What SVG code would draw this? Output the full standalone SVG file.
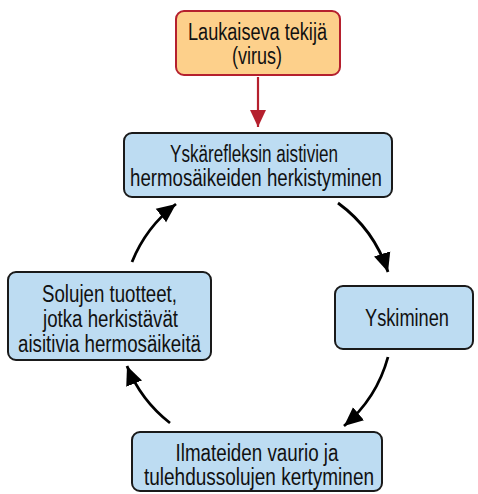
<svg xmlns="http://www.w3.org/2000/svg" width="478" height="494" viewBox="0 0 478 494">
<style>
.box{fill:#bddcf2;stroke:#1a1a1a;stroke-width:2}
.trig{fill:#fdd08b;stroke:#b5202e;stroke-width:2}
text{font-family:"Liberation Sans",Arial,sans-serif;font-size:23px;fill:#111;text-anchor:middle}
.arc{fill:none;stroke:#000;stroke-width:2.8}
</style>
<defs>
<marker id="ah" markerUnits="userSpaceOnUse" markerWidth="22" markerHeight="22" viewBox="0 0 22 22" refX="19" refY="11" orient="auto">
<path d="M0,2.5 L19,11 L0,19.5 Z" fill="#000"/>
</marker>
<marker id="ahr" markerUnits="userSpaceOnUse" markerWidth="22" markerHeight="22" viewBox="0 0 22 22" refX="17" refY="11" orient="auto">
<path d="M0,3 L17,11 L0,19 Z" fill="#b5202e"/>
</marker>
</defs>
<g id="connectors">
<line x1="258" y1="77" x2="258" y2="127" stroke="#b5202e" stroke-width="2.2" marker-end="url(#ahr)"/>
<path class="arc" d="M 338 203 A 138 138 0 0 1 388 272" marker-end="url(#ah)"/>
<path class="arc" d="M 388 357 A 138 138 0 0 1 344 426" marker-end="url(#ah)"/>
<path class="arc" d="M 170 423 A 138 138 0 0 1 127 366" marker-end="url(#ah)"/>
<path class="arc" d="M 132 262 A 138 138 0 0 1 176 204" marker-end="url(#ah)"/>
</g>
<g id="trigger">
<rect class="trig" x="176" y="11" width="164" height="64" rx="8"/>
<text x="257.5" y="40" textLength="139" lengthAdjust="spacingAndGlyphs">Laukaiseva tekijä</text>
<text x="257" y="64" textLength="50" lengthAdjust="spacingAndGlyphs">(virus)</text>
</g>
<g id="sensitization">
<rect class="box" x="124" y="133" width="268" height="64" rx="8"/>
<text x="254" y="162" textLength="168" lengthAdjust="spacingAndGlyphs">Yskärefleksin aistivien</text>
<text x="256" y="186" textLength="252" lengthAdjust="spacingAndGlyphs">hermosäikeiden herkistyminen</text>
</g>
<g id="cough">
<rect class="box" x="335" y="286" width="138" height="63" rx="8"/>
<text x="407" y="326" textLength="84" lengthAdjust="spacingAndGlyphs">Yskiminen</text>
</g>
<g id="damage">
<rect class="box" x="132" y="432" width="250" height="59" rx="8"/>
<text x="257" y="461" textLength="163" lengthAdjust="spacingAndGlyphs">Ilmateiden vaurio ja</text>
<text x="259" y="485" textLength="230" lengthAdjust="spacingAndGlyphs">tulehdussolujen kertyminen</text>
</g>
<g id="products">
<rect class="box" x="8" y="272" width="203" height="88" rx="8"/>
<text x="109.5" y="302" textLength="135" lengthAdjust="spacingAndGlyphs">Solujen tuotteet,</text>
<text x="110.5" y="327" textLength="135" lengthAdjust="spacingAndGlyphs">jotka herkistävät</text>
<text x="109.5" y="352" textLength="183" lengthAdjust="spacingAndGlyphs">aisitivia hermosäikeitä</text>
</g>
</svg>
